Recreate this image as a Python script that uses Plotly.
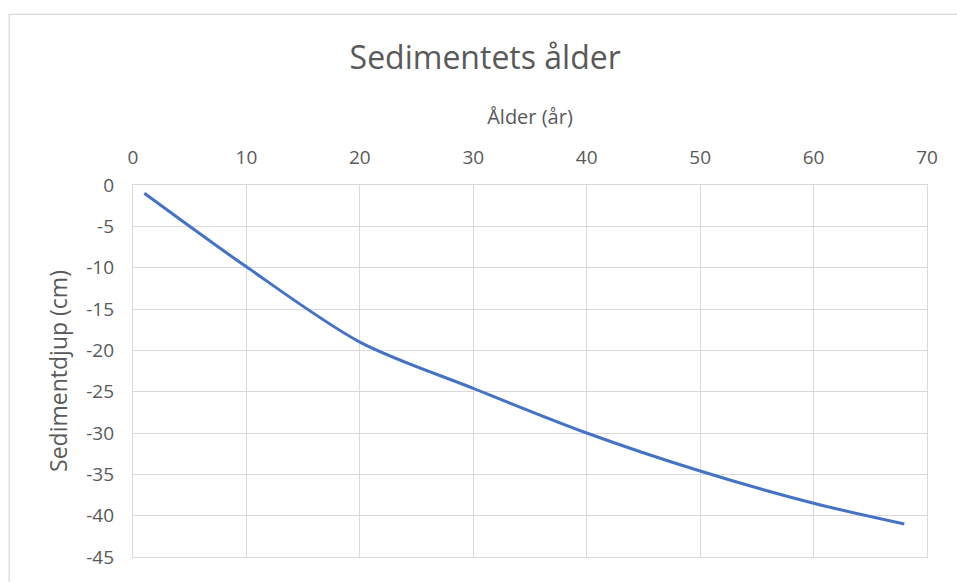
import plotly.graph_objects as go

# Ålder (år) och sedimentdjup (cm)
alder = [1, 10, 20, 30, 40, 50, 60, 68]
djup = [-1, -9.9, -19.0, -24.6, -30.0, -34.6, -38.5, -41.0]

x_ticks = [0, 10, 20, 30, 40, 50, 60, 70]
y_ticks = [0, -5, -10, -15, -20, -25, -30, -35, -40, -45]
y_ticktext = [str(v) for v in y_ticks]

FONT = "Open Sans"
GREY = "#595959"
GRID = "#d9d9d9"

fig = go.Figure()
fig.add_trace(go.Scatter(
    x=alder, y=djup, mode="lines",
    line=dict(color="#4472C4", width=3, shape="spline", smoothing=0.85),
    showlegend=False, hoverinfo="skip",
))

fig.update_layout(
    width=957, height=582,
    margin=dict(l=133, r=30, t=185, b=22),
    paper_bgcolor="white", plot_bgcolor="white",
    font=dict(family=FONT, color=GREY),
    title=dict(text="Sedimentets ålder", x=0.507, xanchor="center",
               y=0.9, yanchor="middle",
               font=dict(family=FONT, size=32, color=GREY)),
    xaxis=dict(
        side="top", range=[0, 70], tickvals=x_ticks,
        showgrid=True, gridcolor=GRID, gridwidth=1.3,
        showline=True, linecolor=GRID, linewidth=1.3, mirror=True,
        zeroline=False, ticks="", ticklabelstandoff=12,
        tickfont=dict(family=FONT, size=19, color=GREY),
        title=dict(text="Ålder (år)", standoff=14,
                   font=dict(family=FONT, size=20, color=GREY)),
    ),
    yaxis=dict(
        range=[-45, 0], tickvals=y_ticks, ticktext=y_ticktext,
        showgrid=True, gridcolor=GRID, gridwidth=1.3,
        showline=True, linecolor=GRID, linewidth=1.3, mirror=True,
        zeroline=False, ticks="", ticklabelstandoff=14,
        tickfont=dict(family=FONT, size=19, color=GREY),
        title=dict(text="Sedimentdjup (cm)", standoff=12,
                   font=dict(family=FONT, size=23, color=GREY)),
    ),
    shapes=[dict(
        type="rect", xref="paper", yref="paper",
        x0=-0.156, x1=1.2, y0=-0.2, y1=1.4587,
        line=dict(color=GRID, width=1.3), fillcolor="rgba(0,0,0,0)",
        layer="below",
    )],
)

fig.write_html("out.html")
